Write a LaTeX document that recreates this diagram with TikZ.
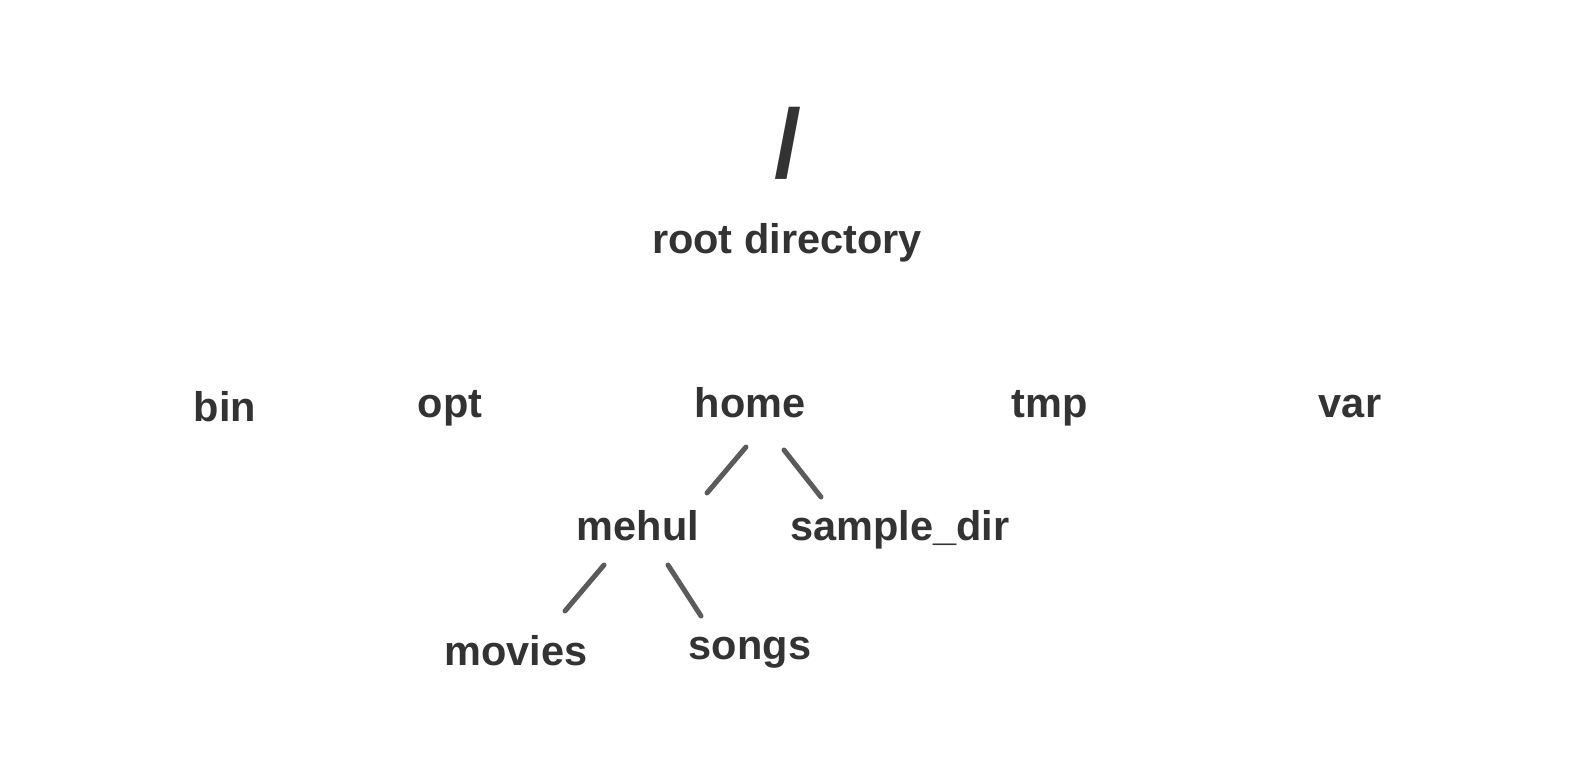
\documentclass[tikz,border=0pt]{standalone}
\usepackage{fontspec}
\setmainfont{Liberation Sans}
\definecolor{txt}{HTML}{333333}
\definecolor{edge}{HTML}{5B5B5B}
\begin{document}
\begin{tikzpicture}[x=1pt,y=-1pt,
  lbl/.style={text=txt,font=\fontsize{41.5}{41.5}\selectfont\bfseries,anchor=base,inner sep=0pt},
  rootlbl/.style={text=txt,font=\fontsize{97}{97}\selectfont\bfseries,anchor=base,inner sep=0pt},
  link/.style={draw=edge,line width=5pt,line cap=round}]
\useasboundingbox[fill=white] (0,0) rectangle (1575,771);
\node[rootlbl] (slash) at (788,177) {/};
\node[lbl] (root) at (787,253) {root directory};
\node[lbl] (bin) at (225,421) {bin};
\node[lbl] (opt) at (450,417) {opt};
\node[lbl] (home) at (750,417) {home};
\node[lbl] (tmp) at (1050,417) {tmp};
\node[lbl] (var) at (1350,417) {var};
\node[lbl] (mehul) at (638,540) {mehul};
\node[lbl] (sample) at (900,540) {sample\_dir};
\node[lbl] (movies) at (516,665) {movies};
\node[lbl] (songs) at (750,659) {songs};
\coordinate (h1) at (746,447);
\coordinate (m0) at (707,493);
\coordinate (h2) at (784,450);
\coordinate (s0) at (821,497);
\coordinate (m1) at (604,565);
\coordinate (v0) at (565,611);
\coordinate (m2) at (668,565);
\coordinate (g0) at (701,616);
\draw[link] (h1) -- (m0);
\draw[link] (h2) -- (s0);
\draw[link] (m1) -- (v0);
\draw[link] (m2) -- (g0);
\end{tikzpicture}
\end{document}
